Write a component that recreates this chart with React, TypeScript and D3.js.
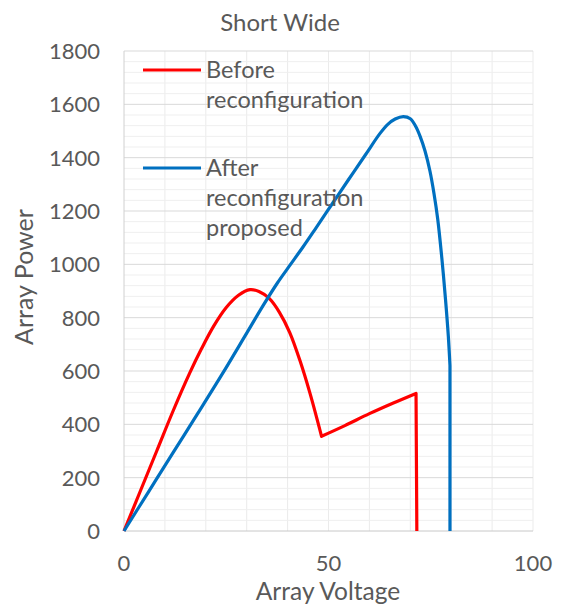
import React, { useEffect, useRef } from 'react';
import * as d3 from 'd3';

// Before reconfiguration (red)
const beforeVoltage = [0, 4, 8, 12, 16, 19, 22, 25, 28, 30.8, 33, 35.5, 38, 40.5, 43, 45.5, 48.3, 54, 60, 66, 71.4, 71.6];
const beforePower = [0, 150, 300, 450, 590, 685, 770, 838, 884, 905, 898, 872, 820, 745, 640, 515, 355, 395, 440, 481, 516, 0];

// After reconfiguration proposed (blue)
const afterVoltage = [0, 6, 12, 18, 24, 30, 34, 37.5, 40.5, 43.8, 47, 51, 55, 59, 62.6, 64.5, 66.3, 68.3, 70, 71.3, 72.4, 73.6, 74.8, 75.8, 76.7, 77.7, 78.6, 79.3, 79.7, 79.7];
const afterPower = [0, 147, 294, 440, 588, 742, 845, 930, 995, 1066, 1138, 1229, 1320, 1410, 1491, 1525, 1545, 1554, 1546, 1518, 1480, 1425, 1350, 1265, 1170, 1025, 870, 730, 620, 0];

const xTicks = [0, 50, 100];
const yTicks = [0, 200, 400, 600, 800, 1000, 1200, 1400, 1600, 1800];
const seriesLabels = [['Before', 'reconfiguration'], ['After', 'reconfiguration', 'proposed']];
const seriesColors = ['#ff0000', '#0070c0'];
// indices where the curve has a sharp corner (pieces between them are smoothed)
const seriesBreaks = [[0, 16, 20, 21], [0, 28, 29]];

const App = () => {
  const svgRef = useRef<SVGSVGElement>(null);

  useEffect(() => {
    document.body.style.margin = '0';
    const width = 561;
    const height = 607;
    const marginTop = 51;
    const marginRight = 28;
    const marginBottom = 76;
    const marginLeft = 124;
    const font = 'Lato, sans-serif';
    const textColor = '#595959';

    const x = d3.scaleLinear([0, 100], [marginLeft, width - marginRight]);
    const y = d3.scaleLinear([0, 1800], [height - marginBottom, marginTop]);

    const svg = d3.select(svgRef.current);
    svg.selectAll('*').remove();
    svg.attr('width', width).attr('height', height).attr('viewBox', [0, 0, width, height]);

    svg.append('rect').attr('width', width).attr('height', height).attr('fill', '#fff');

    // grid: vertical every 10, horizontal minor every 40, major every 200
    const grid = svg.append('g');
    grid.selectAll('.vx')
      .data(d3.range(10, 101, 10))
      .join('line')
      .attr('x1', d => x(d)).attr('x2', d => x(d))
      .attr('y1', y(0)).attr('y2', y(1800))
      .attr('stroke', '#ebebeb').attr('stroke-width', 1);
    grid.selectAll('.hm')
      .data(d3.range(40, 1800, 40).filter(d => d % 200 !== 0))
      .join('line')
      .attr('x1', x(0)).attr('x2', x(100))
      .attr('y1', d => y(d)).attr('y2', d => y(d))
      .attr('stroke', '#efefef').attr('stroke-width', 1);
    grid.selectAll('.hM')
      .data(yTicks.slice(1))
      .join('line')
      .attr('x1', x(0)).attr('x2', x(100))
      .attr('y1', d => y(d)).attr('y2', d => y(d))
      .attr('stroke', '#d9d9d9').attr('stroke-width', 1);

    // axis lines
    svg.append('line')
      .attr('x1', x(0)).attr('x2', x(0)).attr('y1', y(0)).attr('y2', y(1800))
      .attr('stroke', '#d0d0d0');
    svg.append('line')
      .attr('x1', x(0)).attr('x2', x(100)).attr('y1', y(0)).attr('y2', y(0))
      .attr('stroke', '#c8c8c8');

    // tick labels
    svg.append('g')
      .selectAll('text')
      .data(yTicks)
      .join('text')
      .attr('x', 100)
      .attr('y', d => y(d))
      .attr('dy', '0.36em')
      .attr('text-anchor', 'end')
      .attr('font-family', font).attr('font-size', 22).attr('fill', textColor)
      .text(d => d);
    svg.append('g')
      .selectAll('text')
      .data(xTicks)
      .join('text')
      .attr('x', d => x(d))
      .attr('y', 571)
      .attr('text-anchor', 'middle')
      .attr('font-family', font).attr('font-size', 22).attr('fill', textColor)
      .text(d => d);

    // titles
    svg.append('text')
      .attr('x', 280).attr('y', 31)
      .attr('text-anchor', 'middle')
      .attr('font-family', font).attr('font-size', 24).attr('fill', textColor)
      .text('Short Wide');
    svg.append('text')
      .attr('x', 328).attr('y', 600)
      .attr('text-anchor', 'middle')
      .attr('font-family', font).attr('font-size', 24.5).attr('fill', textColor)
      .text('Array Voltage');
    svg.append('text')
      .attr('transform', 'translate(33,277) rotate(-90)')
      .attr('text-anchor', 'middle')
      .attr('font-family', font).attr('font-size', 25).attr('fill', textColor)
      .text('Array Power');

    // series lines, smoothed between sharp corners
    const smooth = d3.line<[number, number]>()
      .x(d => x(d[0]))
      .y(d => y(d[1]))
      .curve(d3.curveCatmullRom.alpha(0.5));

    const series = [
      d3.zip(beforeVoltage, beforePower) as [number, number][],
      d3.zip(afterVoltage, afterPower) as [number, number][],
    ];
    series.forEach((pts, i) => {
      const breaks = seriesBreaks[i];
      let d = '';
      for (let k = 0; k < breaks.length - 1; k++) {
        const piece = smooth(pts.slice(breaks[k], breaks[k + 1] + 1)) || '';
        d += k === 0 ? piece : 'L' + piece.slice(1);
      }
      svg.append('path')
        .attr('fill', 'none')
        .attr('stroke', seriesColors[i])
        .attr('stroke-width', 3.2)
        .attr('stroke-linejoin', 'round')
        .attr('d', d);
    });

    // legend
    const legendTops = [70, 168];
    seriesLabels.forEach((lines, i) => {
      const g = svg.append('g');
      g.append('line')
        .attr('x1', 143).attr('x2', 201)
        .attr('y1', legendTops[i]).attr('y2', legendTops[i])
        .attr('stroke', seriesColors[i]).attr('stroke-width', 3.2);
      g.selectAll('text')
        .data(lines)
        .join('text')
        .attr('x', 206)
        .attr('y', (d, j) => legendTops[i] + 7.5 + j * 30)
        .attr('font-family', font).attr('font-size', 23.5).attr('fill', textColor)
        .text(d => d);
    });
  }, []);

  return <svg ref={svgRef} style={{ display: 'block' }} />;
};

export default App;
